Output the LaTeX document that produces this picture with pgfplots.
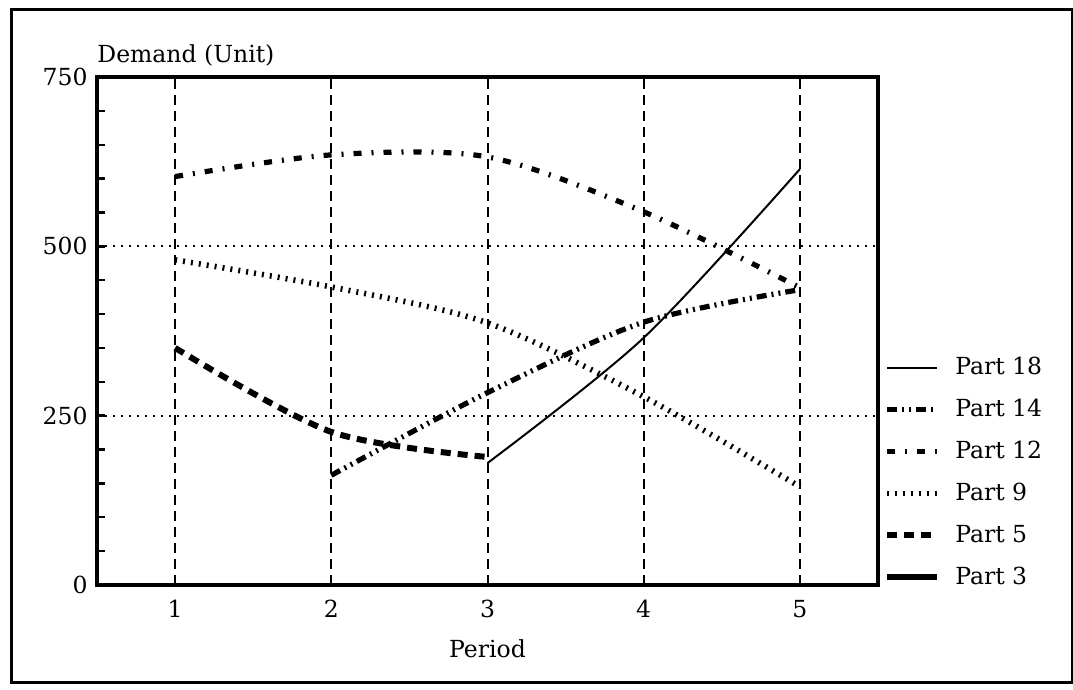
\documentclass[border=0pt]{standalone}
\usepackage{fontspec}
\setmainfont{DejaVu Serif}
\usepackage{pgfplots}
\pgfplotsset{compat=1.18}
\begin{document}
\fontsize{11.8}{14}\selectfont
\begin{tikzpicture}
\useasboundingbox (0,0) rectangle (536.5bp,345bp);
\draw[line width=1.5bp] (5.5bp,3.5bp) rectangle (536bp,340bp);
\begin{axis}[
  at={(48.5bp,52.5bp)}, anchor=south west,
  scale only axis, width=390.5bp, height=254bp,
  xmin=0.5, xmax=5.5, ymin=0, ymax=750,
  axis line style={line width=2.2bp},
  xtick={1,2,3,4,5},
  ytick={0,250,500,750},
  minor ytick={50,100,150,200,300,350,400,450,550,600,650,700},
  ytick pos=left, xtick pos=bottom,
  tick align=inside,
  major tick length=4bp, minor tick length=4bp,
  every tick/.style={line width=1.2bp, black},
  xtick style={draw=none},
  /pgf/number format/assume math mode=true,
  tick label style={font=\fontsize{11.8}{14}\selectfont},
  label style={font=\fontsize{11.8}{14}\selectfont},
  yticklabel style={anchor=east, inner sep=0pt, xshift=-4.5bp},
  xticklabel style={anchor=base, inner sep=0pt, yshift=-16bp},
  xmajorgrids, 
  major x grid style={line width=1bp, black, dash pattern=on 5bp off 3bp},
  extra y ticks={250,500},
  extra y tick labels={},
  extra y tick style={grid=major, major grid style={line width=1bp, black, dash pattern=on 1bp off 3bp}, major tick length=0pt},
  xlabel={Period},
  xlabel style={at={(axis description cs:0.5,0)}, anchor=base, yshift=-36bp, inner sep=0pt},
  ylabel={Demand (Unit)},
  ylabel style={at={(axis description cs:0,1)}, anchor=base west, rotate=-90, yshift=7bp, inner sep=0pt},
  legend style={draw=none, fill=none, at={(1.0075,0.457)}, anchor=north west, inner sep=0pt,
    row sep=6.5bp, font=\fontsize{11.8}{14}\selectfont, cells={anchor=west}},
  legend cell align=left,
  legend image code/.code={\draw[#1] (0bp,0bp) -- (25bp,0bp);},
  clip=false,
]
\addplot[black, line width=1bp, smooth] coordinates {(3,180) (4,365) (5,614)};
\addlegendentry{\hspace{5.5bp}Part 18}
\addplot[black, line width=2.6bp, smooth, dash pattern=on 5bp off 2.5bp on 1bp off 2.5bp on 1bp off 2.5bp] coordinates {(2,162) (3,284) (4,388) (5,436)};
\addlegendentry{\hspace{5.5bp}Part 14}
\addplot[black, line width=2.6bp, smooth, dash pattern=on 4bp off 5bp on 1bp off 5bp] coordinates {(1,603) (2,635) (3,632) (4,551) (5,439)};
\addlegendentry{\hspace{5.5bp}Part 12}
\addplot[black, line width=2.8bp, smooth, dash pattern=on 1bp off 3bp] coordinates {(1,480) (2,440) (3,387) (4,278) (5,145)};
\addlegendentry{\hspace{5.5bp}Part 9}
\addplot[black, line width=3bp, smooth, dash pattern=on 5bp off 3.5bp] coordinates {(1,350) (2,226) (3,189)};
\addlegendentry{\hspace{5.5bp}Part 5}
\addlegendimage{black, line width=3bp}
\addlegendentry{\hspace{5.5bp}Part 3}
\end{axis}
\end{tikzpicture}
\end{document}
